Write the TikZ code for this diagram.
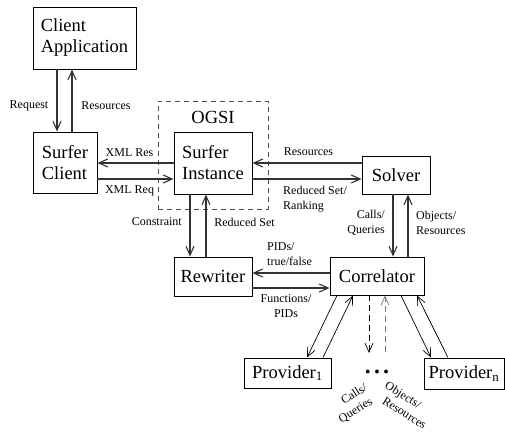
\documentclass[tikz,border=0pt]{standalone}
\usepackage{fontspec}
\setmainfont{Liberation Serif}
\usetikzlibrary{arrows.meta}
\begin{document}
\begin{tikzpicture}[x=1pt,y=-1pt,
  box/.style={draw, line width=0.9pt, inner sep=0pt, font=\fontsize{18.5}{21}\selectfont, align=left},
  lbl/.style={font=\fontsize{12}{14.5}\selectfont, inner sep=0pt},
  arr/.style={-{Straight Barb[length=9pt,width=8pt]}, line width=1.1pt, draw=black!80},
  thinarr/.style={-{Straight Barb[length=9pt,width=8pt]}, line width=0.7pt},
]
\useasboundingbox (0,0) rectangle (505,432);

% OGSI dashed container
\node[draw=black!70, dashed, dash pattern=on 5pt off 4pt, line width=0.9pt, minimum width=110pt, minimum height=108pt, inner sep=0pt] (ogsi) at (213,155) {};
\node[font=\fontsize{18.5}{21}\selectfont, inner sep=0pt] (ogsilbl) at (213,117) {OGSI};

% boxes
\node[box, minimum width=103pt, minimum height=62pt] (capp) at (84.5,38) {Client\\Application};
\node[box, minimum width=64pt, minimum height=61pt] (sclient) at (65,162.5) {Surfer\\Client};
\node[box, minimum width=78pt, minimum height=62pt] (sinst) at (213,163) {Surfer\\Instance};
\node[box, minimum width=68pt, minimum height=38pt] (solver) at (396,175) {Solver};
\node[box, minimum width=78pt, minimum height=39pt] (rewriter) at (213,276.5) {Rewriter};
\node[box, minimum width=94pt, minimum height=38pt] (corr) at (377,276) {Correlator};
\node[box, minimum width=87pt, minimum height=30pt] (prov1) at (287.5,373) {Provider\textsubscript{1}};
\node[box, minimum width=80pt, minimum height=31pt] (provn) at (464,373.5) {Provider\textsubscript{n}};

% client application <-> surfer client
\draw[arr] ([xshift=-27.5pt]capp.south) -- ([xshift=-8pt]sclient.north);
\draw[arr] ([xshift=7pt]sclient.north) -- ([xshift=-12.5pt]capp.south);
\node[lbl] (lreq) at (29,106) {Request};
\node[lbl] (lres1) at (106,106) {Resources};

% surfer client <-> surfer instance
\draw[arr] (sinst.west) -- ([yshift=-0.5pt]sclient.east);
\draw[arr] ([yshift=-16.5pt]sclient.east) -- ([yshift=-16pt]sinst.west);
\node[lbl] (lxres) at (129.5,153) {XML Res};
\node[lbl] (lxreq) at (129.5,191) {XML Req};

% surfer instance <-> solver
\draw[arr] ([yshift=12pt]solver.west) -- (sinst.east);
\draw[arr] ([yshift=-16pt]sinst.east) -- ([yshift=-4pt]solver.west);
\node[lbl] (lres2) at (308.5,152) {Resources};
\node[lbl, anchor=west, align=left] (lred) at (283,199) {Reduced Set/\\Ranking};

% surfer instance <-> rewriter
\draw[arr] ([xshift=-23pt]sinst.south) -- ([xshift=-23pt]rewriter.north);
\draw[arr] ([xshift=-7pt]rewriter.north) -- ([xshift=-7pt]sinst.south);
\node[lbl, anchor=east] (lcons) at (182,222) {Constraint};
\node[lbl] (lred2) at (244.5,222) {Reduced Set};

% solver <-> correlator
\draw[arr] ([xshift=-3pt]solver.south) -- ([xshift=16pt]corr.north);
\draw[arr] ([xshift=31pt]corr.north) -- ([xshift=12pt]solver.south);
\node[lbl, anchor=east, align=right] (lcalls) at (385,223) {Calls/\\Queries};
\node[lbl, anchor=west, align=left] (lobj) at (416,223) {Objects/\\Resources};

% rewriter <-> correlator
\draw[arr] ([yshift=3pt]corr.west) -- ([yshift=3.5pt]rewriter.east);
\draw[arr] ([yshift=-11.5pt]rewriter.east) -- ([yshift=-12pt]corr.west);
\node[lbl, anchor=west, align=left] (lpids) at (267,254) {PIDs/\\true/false};
\node[lbl, align=center] (lfun) at (286,306) {Functions/\\PIDs};

% correlator <-> providers
\draw[thinarr] ([xshift=-40pt]corr.south) -- ([xshift=19.5pt]prov1.north);
\draw[thinarr] ([xshift=35.5pt]prov1.north) -- ([xshift=-24pt]corr.south);
\draw[thinarr] ([xshift=24pt]corr.south) -- ([xshift=-33pt]provn.north);
\draw[thinarr] ([xshift=-16pt]provn.north) -- ([xshift=40pt]corr.south);

% dashed generic provider
\coordinate (dend) at (369,353);
\coordinate (dstart) at (385,352);
\draw[thinarr, dashed, dash pattern=on 6pt off 4pt] ([xshift=-8pt]corr.south) -- (dend);
\draw[thinarr, dashed, dash pattern=on 6pt off 4pt, draw=black!55] (dstart) -- ([xshift=8pt]corr.south);
\node[inner sep=0pt, font=\fontsize{10}{10}\selectfont] (dots) at (377,372) {$\bullet\hspace{2pt}\bullet\hspace{2pt}\bullet$};

\node[lbl, rotate=32, align=left] (lcalls2) at (353,404) {\hspace{12pt}Calls/\\Queries};
\node[lbl, rotate=-32, align=left] (lobj2) at (406,405) {Objects/\\\hspace{6pt}Resources};
\end{tikzpicture}
\end{document}
